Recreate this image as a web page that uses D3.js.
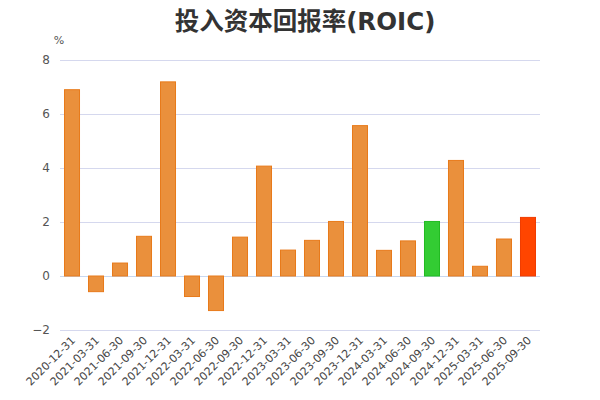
<!DOCTYPE html>
<html><head><meta charset="utf-8">
<script src="https://cdn.jsdelivr.net/npm/d3@7"></script>
<style>body{margin:0;background:#fff;} svg{display:block;}</style>
</head><body>
<svg id="c" width="600" height="400"></svg>
<script>
const categories = ["2020-12-31","2021-03-31","2021-06-30","2021-09-30","2021-12-31","2022-03-31","2022-06-30","2022-09-30","2022-12-31","2023-03-31","2023-06-30","2023-09-30","2023-12-31","2024-03-31","2024-06-30","2024-09-30","2024-12-31","2025-03-31","2025-06-30","2025-09-30"];
const values = [6.9,-0.58,0.48,1.47,7.19,-0.76,-1.28,1.44,4.07,0.96,1.32,2.02,5.57,0.95,1.30,2.02,4.28,0.36,1.37,2.17];
const yTicks = [-2,0,2,4,6,8];
const highlight = {"2024-09-30":"green","2025-09-30":"red"};
const palette = {normal:{fill:"#EA903C",stroke:"#E87A1A"},green:{fill:"#33CC33",stroke:"#22BB22"},red:{fill:"#FF4500",stroke:"#F03C00"}};

const svg = d3.select("#c");
const m = {l:60,r:60,t:60,b:70};
const W = 600, H = 400;
const x = d3.scaleBand().domain(categories).range([m.l, W-m.r]).paddingInner(0.333).paddingOuter(0.167);
const y = d3.scaleLinear().domain([-2,8]).range([330,60]);

svg.append("text").attr("x",305).attr("y",30).attr("text-anchor","middle")
  .attr("font-family","'DejaVu Sans','Noto Sans CJK SC',sans-serif").attr("font-weight","bold")
  .attr("font-size",24.5).attr("fill","#333").text("投入资本回报率(ROIC)");

svg.append("text").attr("x",59).attr("y",44).attr("text-anchor","middle")
  .attr("font-family","'DejaVu Sans',sans-serif").attr("font-size",11).attr("fill","#555").text("%");

const g = svg.append("g");
g.selectAll("line.grid").data(yTicks).join("line")
  .attr("x1",m.l).attr("x2",W-m.r).attr("y1",d=>y(d)+0.5).attr("y2",d=>y(d)+0.5)
  .attr("stroke",d=>d===0?"#C8D8F0":"#D5D8EE").attr("stroke-width",1);

const yAxis = d3.axisLeft(y).tickValues(yTicks).tickSize(0).tickPadding(10);
const ya = svg.append("g").attr("transform",`translate(${m.l},0)`).call(yAxis);
ya.select(".domain").remove();
ya.selectAll("text").attr("font-family","'DejaVu Sans',sans-serif").attr("font-size",12).attr("fill","#555");

svg.selectAll("rect.bar").data(categories).join("rect")
  .attr("x",d=>x(d)+0.5).attr("width",x.bandwidth()-1)
  .attr("y",(d,i)=>y(Math.max(0,values[i])))
  .attr("height",(d,i)=>Math.abs(y(values[i])-y(0)))
  .attr("fill",d=>palette[highlight[d]||"normal"].fill)
  .attr("stroke",d=>palette[highlight[d]||"normal"].stroke).attr("stroke-width",1);

const xAxis = d3.axisBottom(x).tickSize(0).tickPadding(0);
const xa = svg.append("g").attr("transform",`translate(0,${y(-2)})`).call(xAxis);
xa.select(".domain").remove();
xa.selectAll("text").attr("font-family","'DejaVu Sans',sans-serif").attr("font-size",11).attr("fill","#444")
  .attr("text-anchor","end").attr("dy",0)
  .attr("transform","translate(4,11) rotate(-45)");
</script>
</body></html>
